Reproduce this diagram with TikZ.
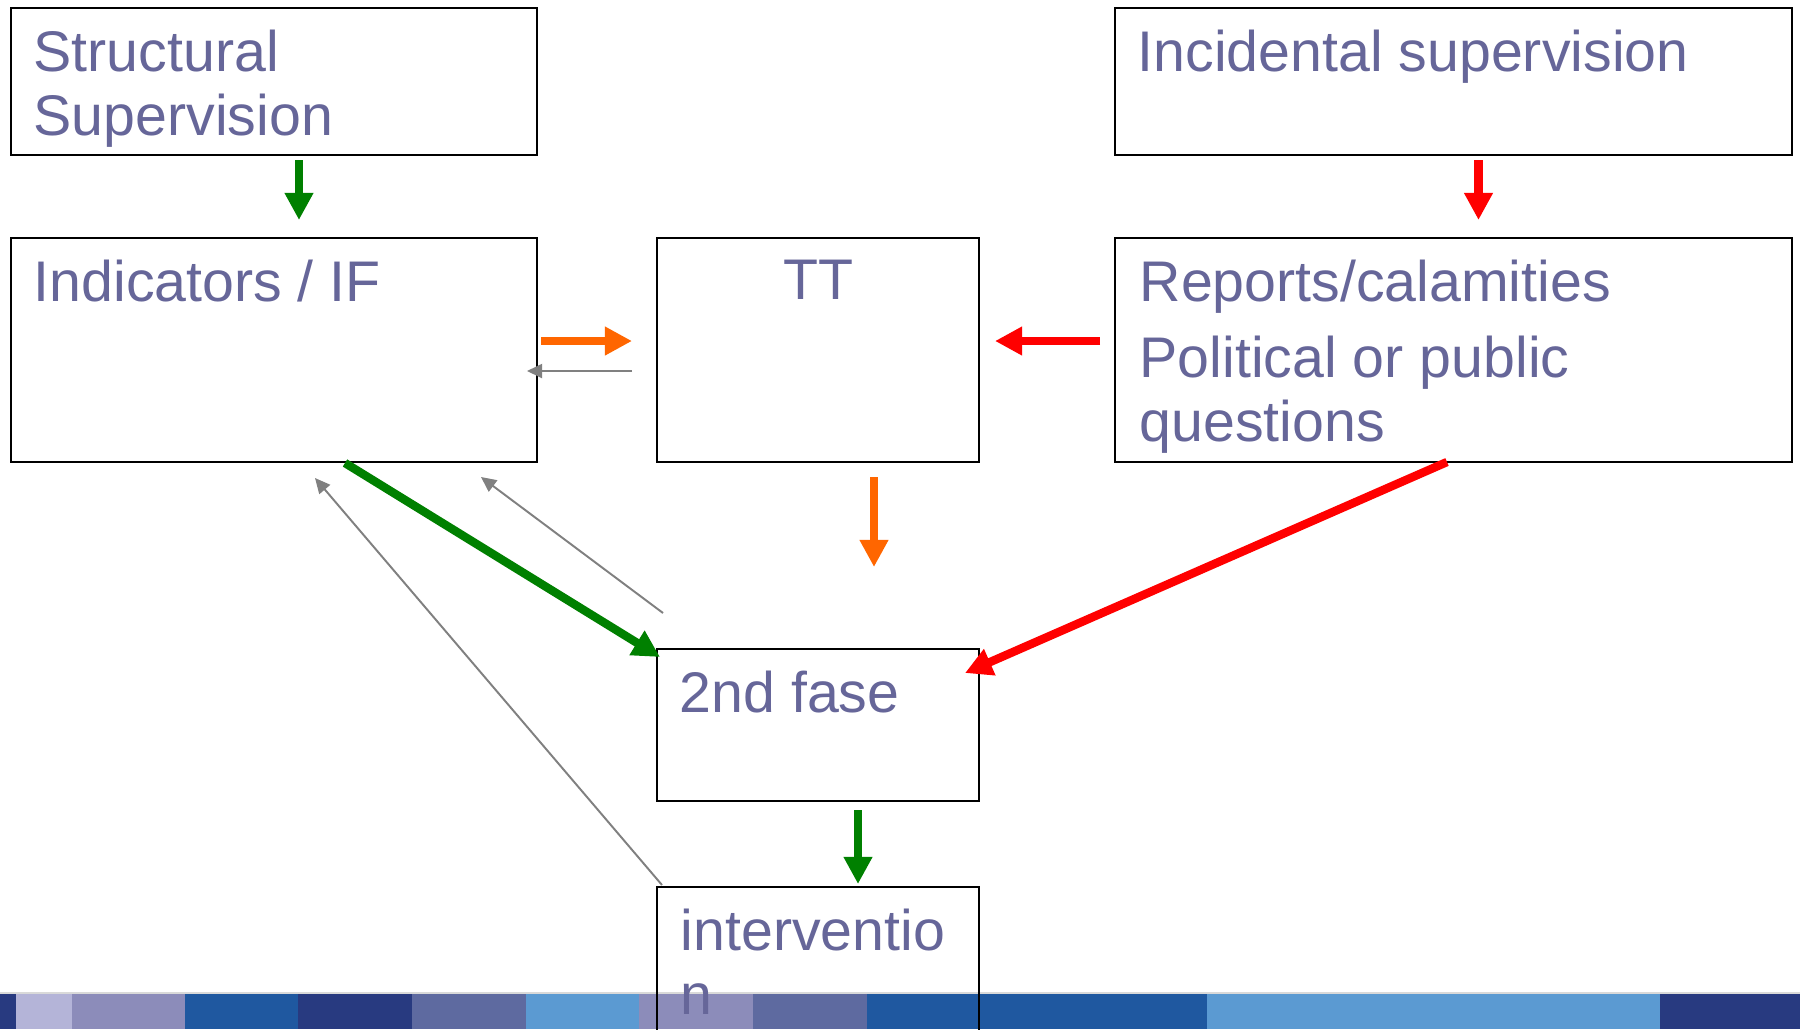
\documentclass[tikz,border=0pt]{standalone}
\usepackage{fontspec}
\setmainfont{Liberation Sans}
\usetikzlibrary{arrows.meta,calc}
\definecolor{txtblue}{HTML}{666699}
\definecolor{arrgreen}{HTML}{008000}
\definecolor{arrred}{HTML}{FF0000}
\definecolor{arrorange}{HTML}{FF6600}
\definecolor{arrgray}{HTML}{808080}
\definecolor{barnavy}{HTML}{283A80}
\definecolor{barpale}{HTML}{B4B4D8}
\definecolor{barlilac}{HTML}{8C8CBA}
\definecolor{barblue}{HTML}{1F58A0}
\definecolor{barslate}{HTML}{5E6AA0}
\definecolor{barsky}{HTML}{5B9AD2}
\tikzset{
  box/.style={draw=black, line width=0.75pt, anchor=north west, inner sep=0pt, outer sep=0pt},
  txt/.style={text=txtblue, font=\fontsize{16.3}{18.2}\selectfont, align=left, inner sep=0pt, anchor=north west},
  fatarrow/.style={line width=2.4pt, -{Triangle[length=7.7pt,width=7.7pt]}},
  thinarrow/.style={arrgray, line width=0.55pt, -{Triangle[length=4.3pt,width=4pt]}}
}
\begin{document}
\begin{tikzpicture}[x=0.1mm,y=-0.1mm]
\clip (0,0) rectangle (1800,1029);
\fill[white] (0,0) rectangle (1800,1029);
\foreach \a/\b/\c in {0/16/barnavy,16/72/barpale,72/185/barlilac,185/298/barblue,298/412/barnavy,412/526/barslate,526/639/barsky,639/753/barlilac,753/867/barslate,867/1207/barblue,1207/1660/barsky,1660/1800/barnavy}
  \fill[\c] (\a,993) rectangle (\b,1029);
\draw[black!15, line width=0.4pt] (0,993) -- (1800,993);
\node[box, minimum width=52.6mm, minimum height=14.7mm] (str) at (11,8) {};
\node[box, minimum width=67.7mm, minimum height=14.7mm] (inc) at (1115,8) {};
\node[box, minimum width=52.6mm, minimum height=22.4mm] (ind) at (11,238) {};
\node[box, minimum width=32.2mm, minimum height=22.4mm] (tt) at (657,238) {};
\node[box, minimum width=67.7mm, minimum height=22.4mm] (rep) at (1115,238) {};
\node[box, minimum width=32.2mm, minimum height=15.2mm] (fase) at (657,649) {};
\node[box, minimum width=32.2mm, minimum height=17.3mm] (intv) at (657,887) {};
\node[txt] (strtxt) at ($(str.north west)+(22,21)$) {Structural\\Supervision};
\node[txt] (inctxt) at ($(inc.north west)+(22,21)$) {Incidental supervision};
\node[txt] (indtxt) at ($(ind.north west)+(22,21)$) {Indicators / IF};
\node[txt, anchor=north] (tttxt) at ($(tt.north)+(0,21)$) {TT};
\node[txt] (reptxt) at ($(rep.north west)+(24,21)$) {Reports/calamities\\[3.4pt]Political or public\\questions};
\node[txt] (fasetxt) at ($(fase.north west)+(22,21)$) {2nd fase};
\node[txt] (intvtxt) at ($(intv.north west)+(23,21)$) {interventio\\n};
\draw[fatarrow, arrgreen] ($(str.south)+(25,5)$) -- ($(ind.north)+(25,-18)$);
\draw[fatarrow, arrred] ($(inc.south)+(25,5)$) -- ($(rep.north)+(25,-18)$);
\draw[fatarrow, arrorange] ($(ind.north east)+(4,103)$) -- ($(tt.north west)+(-25,103)$);
\draw[thinarrow] ($(tt.north west)+(-25,133)$) -- ($(ind.north east)+(-10,133)$);
\draw[fatarrow, arrred] ($(rep.north west)+(-15,103)$) -- ($(tt.north east)+(16,103)$);
\draw[fatarrow, arrorange] ($(tt.south)+(56,15)$) -- ($(fase.north)+(56,-82)$);
\draw[fatarrow, arrgreen] ($(ind.south west)+(334,1)$) -- ($(fase.north west)+(3,8)$);
\draw[fatarrow, arrred] ($(rep.south west)+(332,0)$) -- ($(fase.north east)+(-14,24)$);
\draw[thinarrow] ($(fase.north west)+(6,-36)$) -- ($(ind.south east)+(-56,15)$);
\draw[thinarrow] ($(intv.north west)+(5,-2)$) -- ($(ind.south west)+(304,16)$);
\draw[fatarrow, arrgreen] ($(fase.south)+(40,9)$) -- ($(intv.north)+(40,-3)$);
\end{tikzpicture}
\end{document}
